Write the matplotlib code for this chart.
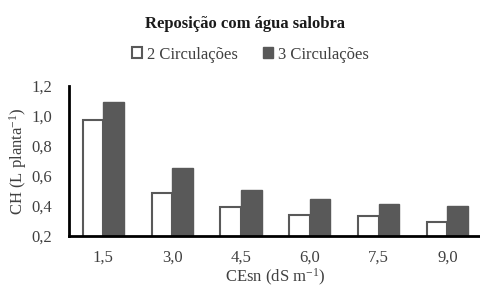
import numpy as np
import matplotlib.pyplot as plt

plt.rcParams['font.family'] = ['Liberation Serif', 'DejaVu Serif']
plt.rcParams['mathtext.fontset'] = 'custom'
plt.rcParams['mathtext.rm'] = 'Liberation Serif'

categorias = ['1,5', '3,0', '4,5', '6,0', '7,5', '9,0']
circ2 = [0.97, 0.485, 0.395, 0.338, 0.333, 0.295]
circ3 = [1.09, 0.655, 0.507, 0.449, 0.415, 0.402]
yticks = [0.2, 0.4, 0.6, 0.8, 1.0, 1.2]
ylabels = ['0,2', '0,4', '0,6', '0,8', '1,0', '1,2']

fig = plt.figure(figsize=(4.81, 2.87), dpi=100)
ax = fig.add_axes([0.1435, 0.178, 0.858, 0.523])

x = np.arange(len(categorias))
w = 0.3
ax.bar(x - w / 2, circ2, w, color='white', edgecolor='#595959',
       linewidth=1.5, label='2 Circulações')
ax.bar(x + w / 2, circ3, w, color='#595959', edgecolor='#595959',
       linewidth=1.0, label='3 Circulações')

ax.set_xlim(-0.5, len(categorias) - 0.5)
ax.set_ylim(0.2, 1.2)
ax.set_yticks(yticks)
ax.set_yticklabels(ylabels)
ax.set_xticks(x)
ax.set_xticklabels(categorias)
ax.tick_params(length=0, labelsize=12, colors='#404040')
ax.tick_params(axis='y', pad=12)
ax.tick_params(axis='x', pad=10)

for s in ['top', 'right']:
    ax.spines[s].set_visible(False)
for s in ['left', 'bottom']:
    ax.spines[s].set_linewidth(2)
    ax.spines[s].set_color('black')

ax.set_ylabel(r'CH (L planta$\mathregular{^{-1}}$)', fontsize=12, color='#404040')
ax.yaxis.set_label_coords(-0.098, 0.5)
ax.set_xlabel(r'CEsn (dS m$\mathregular{^{-1}}$)', fontsize=12, color='#404040', labelpad=1)

fig.text(0.51, 0.915, 'Reposição com água salobra', ha='center', va='center',
         fontsize=12, fontweight='bold', color='#1a1a1a')
fig.legend(loc='center', bbox_to_anchor=(0.52, 0.81), ncol=2, frameon=False,
           fontsize=12, handlelength=0.6, handleheight=0.6, handletextpad=0.3,
           columnspacing=1.5, labelcolor='#404040')

fig.savefig('out.png', dpi=100)
